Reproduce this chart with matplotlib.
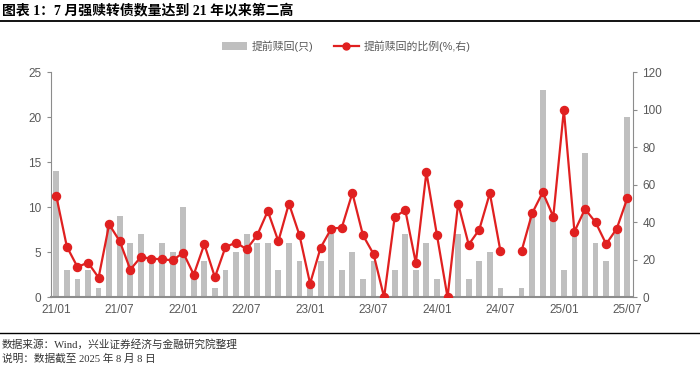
import numpy as np
import matplotlib
matplotlib.use("Agg")
import matplotlib.pyplot as plt
from matplotlib.lines import Line2D
from matplotlib.patches import Patch

plt.rcParams['font.family'] = ['Liberation Sans', 'Noto Sans CJK SC', 'DejaVu Sans']

months = [f"{y:02d}/{m:02d}" for y in range(21, 26) for m in range(1, 13)][:55]

redeem_count = [14, 3, 2, 3, 1, 8, 9, 6, 7, 4, 6, 5,
                10, 2, 4, 1, 3, 5, 7, 6, 6, 3, 6, 4,
                1, 4, 7, 3, 5, 2, 4, 0, 3, 7, 3, 6,
                2, 0, 7, 2, 4, 5, 1, 0, 1, 9, 23, 9,
                3, 7, 16, 6, 4, 7, 20]

redeem_ratio = [54.0, 27.0, 16.2, 18.5, 10.5, 38.9, 29.9, 14.8, 21.5, 20.6, 20.3, 19.7,
                23.8, 12.1, 28.3, 10.7, 26.8, 29.2, 25.6, 33.1, 46.0, 29.9, 50.0, 33.1,
                7.3, 26.5, 36.6, 37.2, 55.6, 33.1, 23.1, 0.0, 42.7, 46.6, 18.3, 66.7,
                33.1, 0.0, 50.0, 28.1, 36.1, 55.5, 24.7, np.nan, 24.7, 44.8, 56.0, 43.0,
                100.0, 35.0, 47.1, 40.0, 28.4, 36.6, 52.8]

tick_labels = ["21/01", "21/07", "22/01", "22/07", "23/01", "23/07",
               "24/01", "24/07", "25/01", "25/07"]

bar_label = "提前赎回(只)"
line_label = "提前赎回的比例(%,右)"
title = "图表 1：7 月强赎转债数量达到 21 年以来第二高"
source = "数据来源：Wind，兴业证券经济与金融研究院整理"
note = "说明：数据截至 2025 年 8 月 8 日"

GREY_BAR = "#BFBFBF"
RED = "#E02020"
TXT = "#595959"
AX = "#8C8C8C"

W, H = 700, 365
fig = plt.figure(figsize=(7.0, 3.65), dpi=100)

def fx(px):
    return px / W

def fy(py):
    return 1 - py / H

ax = fig.add_axes([fx(51), fy(297.3), fx(632.6) - fx(51), fy(72.3) - fy(297.3)])
ax2 = ax.twinx()

x = np.arange(len(months))
ax.bar(x, redeem_count, width=0.55, color=GREY_BAR, zorder=1)
ax2.plot(x, redeem_ratio, color=RED, lw=1.6, marker='o', markersize=5.8,
         markerfacecolor=RED, markeredgecolor=RED, zorder=3)

ax.set_xlim(-0.5, len(months) - 0.5)
ax.set_ylim(0, 25)
ax2.set_ylim(0, 120)
ax.set_yticks(np.arange(0, 26, 5))
ax2.set_yticks(np.arange(0, 121, 20))
tick_pos = [months.index(t) for t in tick_labels]
ax.set_xticks(tick_pos)
ax.set_xticklabels(tick_labels)

for a in (ax, ax2):
    a.spines['top'].set_visible(False)
ax.spines['right'].set_visible(False)
ax2.spines['left'].set_visible(False)
ax2.spines['bottom'].set_visible(False)
ax.spines['left'].set_color(AX)
ax.spines['bottom'].set_color(AX)
ax2.spines['right'].set_color(AX)
ax.spines['bottom'].set_linewidth(1.5)
ax.tick_params(axis='x', length=0, pad=5, labelsize=8.5, colors=TXT)
ax.tick_params(axis='y', length=3, width=0.8, color=AX, labelsize=8.5, labelcolor=TXT, pad=4)
ax2.tick_params(axis='y', length=3, width=0.8, color=AX, labelsize=8.5, labelcolor=TXT, pad=4)
ax.set_zorder(ax2.get_zorder() - 1)
ax2.patch.set_visible(False)

handles = [Patch(facecolor=GREY_BAR, edgecolor='none'),
           Line2D([0], [0], color=RED, lw=1.6, marker='o', markersize=5, markerfacecolor=RED)]
fig.legend(handles, [bar_label, line_label], loc='center', bbox_to_anchor=(fx(346), fy(46)),
           ncol=2, frameon=False, fontsize=7.8, handlelength=2.3, handleheight=0.7,
           columnspacing=1.9, handletextpad=0.45, labelcolor=TXT)

serif_cjk = ['Liberation Serif', 'Noto Sans CJK SC']
fig.text(fx(2), fy(10), title, ha='left', va='center', fontsize=10, fontweight='bold',
         family=serif_cjk, color='black')
fig.add_artist(Line2D([0, 1], [fy(21), fy(21)], color='black', lw=1.3))
fig.add_artist(Line2D([0, 1], [fy(333), fy(333)], color='black', lw=1.0))
fig.text(fx(2), fy(344), source, ha='left', va='center', fontsize=7.7, family=serif_cjk, color='#333333')
fig.text(fx(2), fy(359), note, ha='left', va='center', fontsize=7.7, family=serif_cjk, color='#333333')

fig.savefig("out.png", dpi=100)
